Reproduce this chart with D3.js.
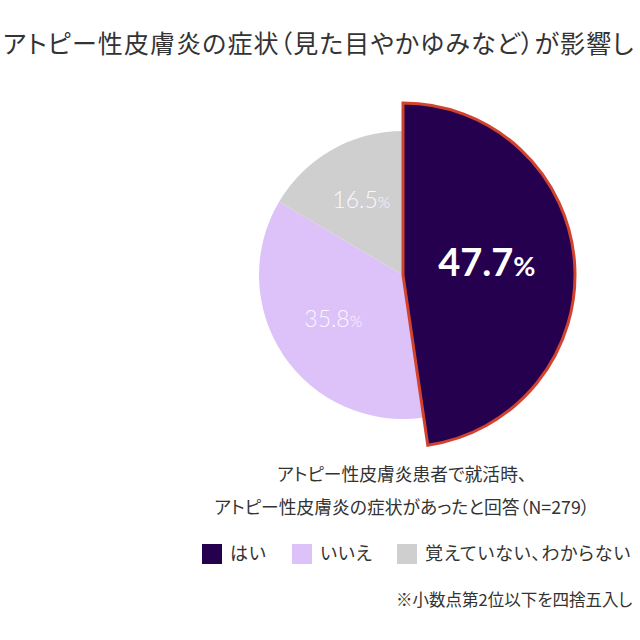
<!DOCTYPE html>
<html>
<head>
<meta charset="utf-8">
<script src="https://cdn.jsdelivr.net/npm/d3@7"></script>
<style>
  body { margin: 0; background: #fff; }
  svg { display: block; font-family: "Noto Sans CJK JP", "Noto Sans", sans-serif; font-feature-settings: "palt"; }
</style>
</head>
<body>
<div id="chart"></div>
<script>
var categories = ["はい", "いいえ", "覚えていない、わからない"];
var values = [47.7, 35.8, 16.5];
var labels = ["47.7", "35.8", "16.5"];

var titleText = "アトピー性皮膚炎の症状（見た目やかゆみなど）が影響し";
var subtitleLines = ["アトピー性皮膚炎患者で就活時、", "アトピー性皮膚炎の症状があったと回答（N=279）"];
var noteText = "※小数点第2位以下を四捨五入し";

var svgWidth = 640;
var svgHeight = 640;

var cx = 403;
var cy = 275;
var radius = 144;
var bigRadius = 172;

var color = d3.scaleOrdinal()
  .domain(categories)
  .range(["#25004f", "#dcc2f8", "#cfcfcf"]);

var svg = d3.select("#chart")
  .append("svg")
  .attr("width", svgWidth)
  .attr("height", svgHeight);

// title, runs right up to the edge
svg.append("text")
  .attr("x", 3)
  .attr("y", 53)
  .attr("fill", "#333")
  .style("font-size", "25px")
  .style("letter-spacing", "1.1px")
  .text(titleText);

var pie = d3.pie()
  .sort(null)
  .value(d => d);

var arcs = pie(values);

var arc = d3.arc()
  .innerRadius(0)
  .outerRadius((d, i) => i === 0 ? bigRadius : radius);

var labelArc = d3.arc()
  .innerRadius(84)
  .outerRadius(84);

var pieGroup = svg.append("g")
  .attr("transform", `translate(${cx}, ${cy})`);

// draw small slices first, highlighted one on top
pieGroup.selectAll("path.slice")
  .data(arcs.slice(1))
  .enter()
  .append("path")
  .attr("class", "slice")
  .attr("d", d => arc(d, 1))
  .attr("fill", (d, i) => color(categories[i + 1]));

pieGroup.append("path")
  .attr("d", arc(arcs[0], 0))
  .attr("fill", color(categories[0]))
  .attr("stroke", "#d2432f")
  .attr("stroke-width", 3)
  .attr("stroke-linejoin", "miter");

var valueText = pieGroup.selectAll("text.val")
  .data(arcs)
  .enter()
  .append("text")
  .attr("class", "val")
  .attr("transform", (d, i) => {
    var c = labelArc.centroid(d);
    return `translate(${c[0]}, ${c[1]})`;
  })
  .attr("text-anchor", "middle")
  .attr("dy", (d, i) => i === 0 ? "0.45em" : "0.35em")
  .attr("fill", (d, i) => i === 0 ? "#ffffff" : "#fbf7ff");

valueText.append("tspan")
  .style("font-size", (d, i) => i === 0 ? "38px" : "23px")
  .style("font-weight", (d, i) => i === 0 ? "700" : "300")
  .style("font-family", "Lato, 'Noto Sans', sans-serif")
  .text((d, i) => labels[i]);

valueText.append("tspan")
  .style("font-size", (d, i) => i === 0 ? "27px" : "16px")
  .style("font-weight", (d, i) => i === 0 ? "700" : "300")
  .style("font-family", "Lato, 'Noto Sans', sans-serif")
  .text("%");

// subtitle under the pie
svg.append("g")
  .selectAll("text")
  .data(subtitleLines)
  .enter()
  .append("text")
  .attr("x", 402)
  .attr("y", (d, i) => 481 + i * 33)
  .attr("text-anchor", "middle")
  .attr("fill", "#333")
  .style("font-size", "17.8px")
  .text(d => d);

// legend
var legendX = [202, 292, 397];
var legend = svg.append("g")
  .selectAll("g")
  .data(categories)
  .enter()
  .append("g")
  .attr("transform", (d, i) => `translate(${legendX[i]}, 544)`);

legend.append("rect")
  .attr("width", 20)
  .attr("height", 20)
  .attr("fill", d => color(d));

legend.append("text")
  .attr("x", 28)
  .attr("y", 10)
  .attr("dy", "0.35em")
  .attr("fill", "#333")
  .style("font-size", "18px")
  .style("letter-spacing", "0.8px")
  .text(d => d);

// footnote
svg.append("text")
  .attr("x", 396)
  .attr("y", 606)
  .attr("fill", "#333")
  .style("font-size", "16.5px")
  .text(noteText);
</script>
</body>
</html>
